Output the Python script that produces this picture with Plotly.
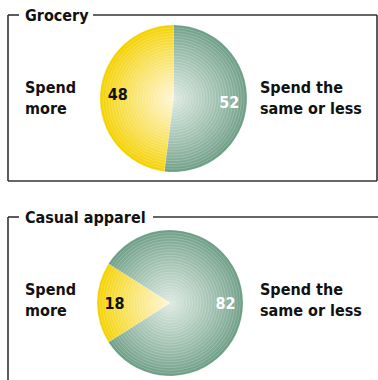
import plotly.graph_objects as go

W, H = 378, 380

# ---- data ----
slice_labels = ["Spend the same or less", "Spend more"]
grocery_values = [52, 48]
apparel_values = [82, 18]
panel_titles = ["Grocery", "Casual apparel"]
left_label = "Spend<br>more"
right_label = "Spend the<br>same or less"

FONT = "DejaVu Sans Condensed, Liberation Sans Narrow, sans-serif"

YEL_EDGE = (244, 210, 0)
YEL_CENTER = (255, 245, 210)
GRN_EDGE = (110, 158, 134)
GRN_CENTER = (218, 232, 224)


def px(x):
    return x / W


def py(y):
    return 1 - y / H


def mix(a, b, t):
    return "rgb(%d,%d,%d)" % tuple(round(a[k] + (b[k] - a[k]) * t) for k in range(3))


fig = go.Figure()

N = 26


def colors_at(t):
    return [mix(GRN_EDGE, GRN_CENTER, t), mix(YEL_EDGE, YEL_CENTER, t)]


def add_pie(values, cx, cy, r, rotation, textcolors):
    for i in range(N):
        f = 1 - i / N
        rr = r * f
        t = (i / (N - 1)) ** 0.85
        fig.add_trace(go.Pie(
            values=values, labels=slice_labels, sort=False,
            direction="clockwise", rotation=rotation,
            marker=dict(colors=colors_at(t),
                        line=dict(color="rgba(255,255,255,0.35)", width=0.6)),
            domain=dict(x=[px(cx - rr), px(cx + rr)], y=[py(cy + rr), py(cy - rr)]),
            textinfo="none", hoverinfo="skip", showlegend=False,
        ))
    # text layer (transparent ring so values sit at ~3/4 of the radius)
    fig.add_trace(go.Pie(
        values=values, labels=slice_labels, sort=False,
        direction="clockwise", rotation=rotation, hole=0.52,
        marker=dict(colors=["rgba(0,0,0,0)", "rgba(0,0,0,0)"],
                    line=dict(width=0)),
        domain=dict(x=[px(cx - r), px(cx + r)], y=[py(cy + r), py(cy - r)]),
        textinfo="value", textposition="inside",
        insidetextorientation="horizontal",
        texttemplate="<b>%{value}</b>",
        textfont=dict(family=FONT, size=16, color=textcolors),
        hoverinfo="skip", showlegend=False,
    ))


add_pie(grocery_values, 173.5, 98.5, 73.5, 0, ["white", "#111"])
# green first, start so the yellow slice is centred at 9 o'clock
add_pie(apparel_values, 170, 303, 73, 302.4, ["white", "#111"])

# ---- frames ----
LC = "#333333"
LW = 1.6
shapes = []


def seg(x0, y0, x1, y1):
    shapes.append(dict(type="line", xref="paper", yref="paper",
                       x0=px(x0), y0=py(y0), x1=px(x1), y1=py(y1),
                       line=dict(color=LC, width=LW)))


# Grocery box
seg(8, 15, 19, 15)
seg(93, 15, 377, 15)
seg(8, 15, 8, 181)
seg(8, 181, 377, 181)
seg(377, 15, 377, 181)
# Casual apparel box
seg(8, 217, 19, 217)
seg(153, 217, 378, 217)
seg(8, 217, 8, 382)

annotations = []
for title, y in zip(panel_titles, [15, 217]):
    annotations.append(dict(text="<b>%s</b>" % title, x=px(23), y=py(y),
                            xref="paper", yref="paper", xanchor="left", yanchor="middle",
                            showarrow=False, font=dict(family=FONT, size=16, color="#111")))

for cy in [98, 300]:
    annotations.append(dict(text="<b>%s</b>" % left_label, x=px(23), y=py(cy),
                            xref="paper", yref="paper", xanchor="left", yanchor="middle",
                            align="left", showarrow=False,
                            font=dict(family=FONT, size=16, color="#111")))
    annotations.append(dict(text="<b>%s</b>" % right_label, x=px(258), y=py(cy),
                            xref="paper", yref="paper", xanchor="left", yanchor="middle",
                            align="left", showarrow=False,
                            font=dict(family=FONT, size=16, color="#111")))

fig.update_layout(
    width=W, height=H, margin=dict(l=0, r=0, t=0, b=0),
    paper_bgcolor="white", plot_bgcolor="white",
    shapes=shapes, annotations=annotations, showlegend=False,
)

fig.write_html("out.html", config={"displayModeBar": False},
               post_script="document.body.style.margin='0';document.body.style.overflow='hidden';")
